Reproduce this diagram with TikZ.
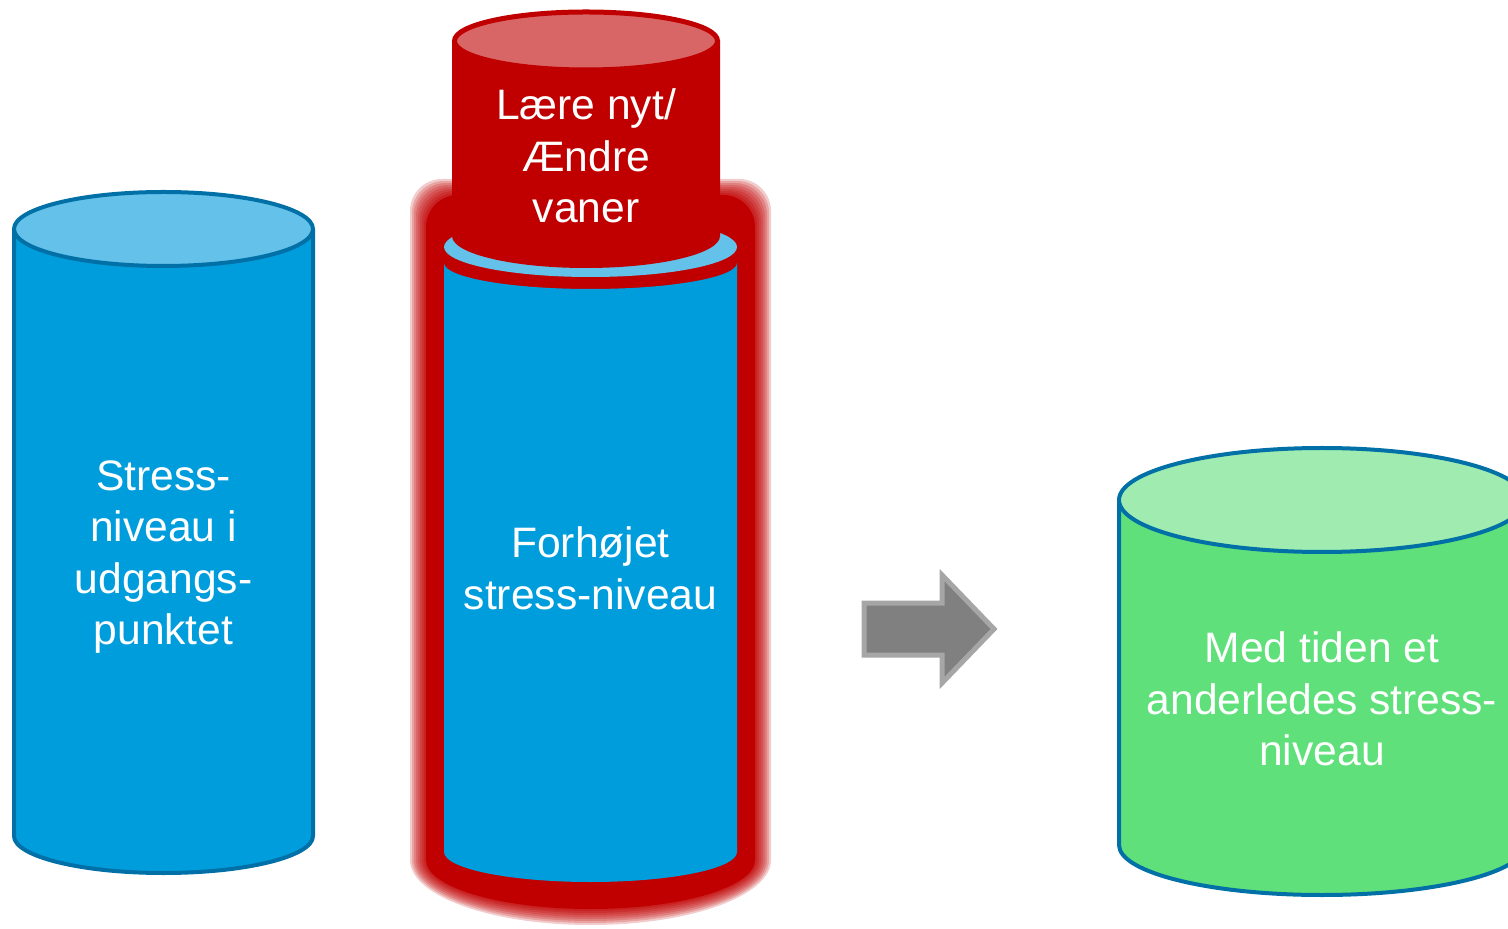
\documentclass[tikz,border=0pt]{standalone}
\usepackage{fontspec}
\setmainfont{Liberation Sans}
\usepackage{tikz}
\definecolor{stressblue}{RGB}{0,157,220}
\definecolor{stresstop}{RGB}{99,193,234}
\definecolor{rimblue}{RGB}{0,112,166}
\definecolor{changered}{RGB}{192,0,0}
\definecolor{changetop}{RGB}{217,102,102}
\definecolor{calmgreen}{RGB}{95,224,122}
\definecolor{calmtop}{RGB}{160,235,176}
\definecolor{arrowgray}{RGB}{128,128,128}
\definecolor{arrowrim}{RGB}{166,166,166}

\begin{document}
\begin{tikzpicture}[x=0.5pt, y=-0.5pt,
    rim/.style={draw=rimblue, line width=2pt},
    txt/.style={text=white, align=center, font=\fontsize{21.3}{25.8}\selectfont}]
  \clip (0,0) rectangle (1508,929);

  % left cylinder
  \fill[stressblue] (14,229) -- (14,836) arc[start angle=180, end angle=0, x radius=149.5, y radius=37] -- (313,229) -- cycle;
  \draw[rim] (14,229) -- (14,836) arc[start angle=180, end angle=0, x radius=149.5, y radius=37] -- (313,229);
  \draw[rim, fill=stresstop] (163.5,229) ellipse[x radius=149.5, y radius=37];
  \node[txt] (start) at (163.5,557) {Stress-\\niveau i\\udgangs-\\punktet};

  % red glow behind the middle cylinder
  \foreach \d/\o in {7/0.2, 5/0.2, 3/0.2, 1/0.2, -1/0.2, -3/0.2, -5/0.25, -7/0.3, -9/1} {
    \fill[changered, opacity=\o]
      ({417-\d},860) [rounded corners=16pt] -- ({417-\d},{186-\d}) -- ({764+\d},{186-\d})
      [sharp corners] -- ({764+\d},860)
      arc[start angle=0, end angle=180, x radius={173.5+\d}, y radius={58+\d}] -- cycle;
  }
  \fill[stressblue] (444,263) -- (444,852) arc[start angle=180, end angle=0, x radius=146.5, y radius=30]
    -- (737,263) arc[start angle=0, end angle=180, x radius=146.5, y radius=26] -- cycle;
  \fill[stresstop] (590.5,247) ellipse[x radius=146.5, y radius=30];
  \node[txt] (raised) at (590.5,568) {Forhøjet\\stress-niveau};

  % red cylinder on top
  \fill[changered] (452,41) -- (452,236) arc[start angle=180, end angle=0, x radius=134, y radius=32] -- (720,41) -- cycle;
  \draw[changered, fill=changetop, line width=2.5pt] (586,41) ellipse[x radius=131.5, y radius=29];
  \node[txt] (learn) at (586,156) {Lære nyt/\\Ændre\\vaner};

  % arrow
  \filldraw[fill=arrowgray, draw=arrowrim, line width=2.5pt]
    (864,603) -- (942,603) -- (942,575) -- (994,629) -- (942,683) -- (942,655) -- (864,655) -- cycle;

  % green cylinder
  \fill[calmgreen] (1119,500) -- (1119,845) arc[start angle=180, end angle=0, x radius=203, y radius=50] -- (1525,500) -- cycle;
  \draw[rim] (1119,500) -- (1119,845) arc[start angle=180, end angle=0, x radius=203, y radius=50] -- (1525,500);
  \draw[rim, fill=calmtop] (1322,500) ellipse[x radius=203, y radius=52];
  \node[txt] (after) at (1322,699) {Med tiden et\\anderledes stress-\\niveau};
\end{tikzpicture}
\end{document}
